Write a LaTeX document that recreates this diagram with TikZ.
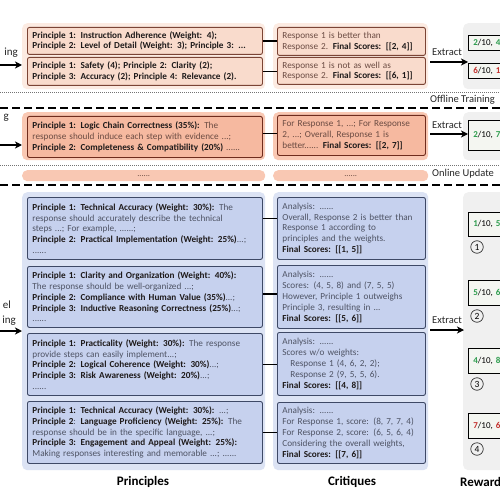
\documentclass[tikz,border=0pt]{standalone}
\usepackage{fontspec}
\setmainfont{Carlito}
\usetikzlibrary{arrows.meta}
\definecolor{peachbg}{HTML}{FCEBE2}
\definecolor{peachbox}{HTML}{F9DBCC}
\definecolor{peachline}{HTML}{7B4435}
\definecolor{salbg}{HTML}{F9C8B3}
\definecolor{salbox}{HTML}{F6B9A0}
\definecolor{salline}{HTML}{6F2C1D}
\definecolor{bluebg}{HTML}{DCE3F4}
\definecolor{bluebox}{HTML}{C6D1EE}
\definecolor{blueline}{HTML}{3E4966}
\definecolor{greybg}{HTML}{F0F0F0}
\definecolor{rewfill}{HTML}{F4F6F1}
\definecolor{rgreen}{HTML}{2E9D4E}
\definecolor{rred}{HTML}{C3302C}
\definecolor{boldtext}{HTML}{1E1A1A}
\definecolor{txtA}{HTML}{6B4B42}
\definecolor{txtB}{HTML}{4E5364}
\newcommand{\bt}[1]{\textbf{\textcolor{boldtext}{#1}}}
\newcommand{\boxfont}{\fontsize{9.2}{10.8}\selectfont}
\tikzset{
  colbg/.style={anchor=north west, draw=none, rounded corners=5pt, inner sep=0pt},
  bgA/.style={colbg, fill=peachbg},
  bgS/.style={colbg, fill=salbg},
  bgB/.style={colbg, fill=bluebg},
  bgG/.style={colbg, fill=greybg},
  boxbase/.style={anchor=north west, rounded corners=2pt, line width=0.9pt, inner xsep=5pt, inner ysep=2pt, align=left, font=\boxfont},
  pwide/.style={text width=225pt},
  cwide/.style={text width=138pt},
  boxA/.style={boxbase, draw=peachline, fill=peachbox, text=txtA},
  boxS/.style={boxbase, draw=salline, fill=salbox, text=txtA},
  boxB/.style={boxbase, draw=blueline, fill=bluebox, text=txtB},
  rbox/.style={anchor=west, draw=black, fill=rewfill, line width=0.8pt, minimum width=80pt, text width=70pt, inner xsep=4pt, align=left, font=\fontsize{9}{10}\selectfont},
  conn/.style={draw=black, line width=1.5pt},
  arr/.style={draw=black, line width=1.6pt, -{Stealth[length=7pt,width=7pt,inset=2pt]}},
  lab/.style={font=\fontsize{10.5}{12}\selectfont, text=black!85, inner sep=0pt},
  side/.style={font=\fontsize{11}{12}\selectfont, text=black!85, anchor=east, inner sep=0pt},
  dashl/.style={draw=black, line width=1.3pt, dash pattern=on 8pt off 4pt},
  dotl/.style={draw=black!55, line width=0.7pt, dash pattern=on 0.8pt off 1.2pt},
  strip/.style={colbg, fill=salbg, font=\fontsize{8.5}{10}\selectfont, text=txtA},
  circ/.style={circle, draw=black!80, line width=0.7pt, minimum size=12.5pt, inner sep=0pt, font=\fontsize{9.5}{10}\selectfont},
  title/.style={font=\fontsize{13}{15}\selectfont\bfseries, inner sep=0pt}
}
\begin{document}
\begin{tikzpicture}[x=1pt,y=-1pt]
\useasboundingbox (0,0) rectangle (500,500);
\clip (0,0) rectangle (500,500);
\fill[white] (0,0) rectangle (500,500);

% ---------------- Section 1 (offline, static) ----------------
\node[bgA, minimum width=243pt, minimum height=66pt] (sp1) at (22,23) {};
\node[bgA, minimum width=155pt, minimum height=66pt] (sc1) at (273,23) {};
\node[bgG, minimum width=60pt, minimum height=66pt] (sr1) at (463,23) {};

\node[boxA, pwide, minimum height=27pt, font=\boxfont\bfseries, text=boldtext] (pa1) at (27,27)
  {\mbox{Principle 1: Instruction Adherence (Weight: 4);}\\\mbox{Principle 2: Level of Detail (Weight: 3); Principle 3: ...}};
\node[boxA, pwide, minimum height=28pt, font=\boxfont\bfseries, text=boldtext] (pa2) at (27,57)
  {\mbox{Principle 1: Safety (4); Principle 2: Clarity (2);}\\\mbox{Principle 3: Accuracy (2); Principle 4: Relevance (2).}};
\node[boxA, cwide, minimum height=28pt] (ca1) at (277,27)
  {\mbox{Response 1 is better than}\\\mbox{Response 2. \bt{Final Scores: [[2, 4]]}}};
\node[boxA, cwide, minimum height=27pt] (ca2) at (277,57)
  {\mbox{Response 1 is not as well as}\\\mbox{Response 2. \bt{Final Scores: [[6, 1]]}}};
\draw[conn] (pa1.east) -- (pa1.east -| ca1.west);
\draw[conn] (pa2.east) -- (pa2.east -| ca2.west);

\node[rbox, minimum height=15pt] (r1) at (468,42.5) {\textcolor{rgreen}{\textbf{2}}/10, \textcolor{rgreen}{\textbf{4}}/10};
\node[rbox, minimum height=15pt] (r2) at (468,70.5) {\textcolor{rred}{\textbf{6}}/10, \textcolor{rred}{\textbf{1}}/10};
\coordinate (x1a) at (430,62);
\draw[arr] (x1a) -- (x1a -| r1.west);
\node[lab] (xt1) at (447,52) {Extract};

\node[side] (l1) at (18,53) {ing};
\coordinate (a1) at (-2,65);
\draw[arr] (a1) -- (a1 -| sp1.west);

\coordinate (d1a) at (0,92); \coordinate (d1b) at (500,92);
\draw[dotl] (d1a) -- (d1b);
\node[lab, anchor=west] (off) at (430,100) {Offline Training};
\coordinate (h1a) at (0,108); \coordinate (h1b) at (500,108);
\draw[dashl] (h1a) -- (h1b);

% ---------------- Section 2 (offline, learned) ----------------
\node[bgS, minimum width=243pt, minimum height=48pt] (sp2) at (22,112) {};
\node[bgS, minimum width=155pt, minimum height=48pt] (sc2) at (273,112) {};
\node[bgG, minimum width=60pt, minimum height=48pt] (sr2) at (463,112) {};

\node[boxS, pwide, minimum height=41pt] (pb1) at (27,116)
  {\mbox{\bt{Principle 1: Logic Chain Correctness (35\%):} The}\\
   \mbox{response should induce each step with evidence ...;}\\
   \mbox{\bt{Principle 2: Completeness \& Compatibility (20\%)} ......}};
\node[boxS, cwide, minimum height=40pt] (cb1) at (277,115)
  {\mbox{For Response 1, ...; For Response}\\
   \mbox{2, ...; Overall, Response 1 is}\\
   \mbox{better...... \bt{Final Scores: [[2, 7]]}}};
\draw[conn] ([yshift=3.5pt]pb1.east) -- ([yshift=3.5pt]pb1.east -| cb1.west);

\node[rbox, minimum height=30pt] (r3) at (468,135) {\textcolor{rgreen}{\textbf{2}}/10, \textcolor{rgreen}{\textbf{7}}/10};
\coordinate (x2a) at (430,134);
\draw[arr] (x2a) -- (x2a -| r3.west);
\node[lab] (xt2) at (447,125) {Extract};

\node[side] (l2) at (9,118) {g};
\coordinate (a2) at (-2,145);
\draw[arr] (a2) -- (a2 -| sp2.west);

\coordinate (d2a) at (0,165); \coordinate (d2b) at (500,165);
\draw[dotl] (d2a) -- (d2b);
\node[strip, minimum width=243pt, minimum height=11pt] (st1) at (22,170) {......};
\node[strip, minimum width=155pt, minimum height=11pt] (st2) at (273,170) {......};
\node[lab, anchor=west] (onl) at (432,174) {Online Update};
\coordinate (h2a) at (0,185); \coordinate (h2b) at (500,185);
\draw[dashl] (h2a) -- (h2b);

% ---------------- Section 3 (online) ----------------
\node[bgB, minimum width=243pt, minimum height=278pt] (sp3) at (22,192) {};
\node[bgB, minimum width=155pt, minimum height=278pt] (sc3) at (273,192) {};
\node[bgG, minimum width=60pt, minimum height=278pt] (sr3) at (463,192) {};

\node[boxB, pwide, minimum height=62pt] (p1) at (27,197)
  {\mbox{\bt{Principle 1: Technical Accuracy (Weight: 30\%):} The}\\
   \mbox{response should accurately describe the technical}\\
   \mbox{steps ...; For example, ......;}\\
   \mbox{\bt{Principle 2: Practical Implementation (Weight: 25\%)}...;}\\
   \mbox{......}};
\node[boxB, pwide, minimum height=61pt] (p2) at (27,266)
  {\mbox{\bt{Principle 1: Clarity and Organization (Weight: 40\%):}}\\
   \mbox{The response should be well-organized ...;}\\
   \mbox{\bt{Principle 2: Compliance with Human Value (35\%)}...;}\\
   \mbox{\bt{Principle 3: Inductive Reasoning Correctness (25\%)}...;}\\
   \mbox{......}};
\node[boxB, pwide, minimum height=62pt] (p3) at (27,333)
  {\mbox{\bt{Principle 1: Practicality (Weight: 30\%):} The response}\\
   \mbox{provide steps can easily implement...;}\\
   \mbox{\bt{Principle 2: Logical Coherence (Weight: 30\%)}...;}\\
   \mbox{\bt{Principle 3: Risk Awareness (Weight: 20\%)}...;}\\
   \mbox{......}};
\node[boxB, pwide, minimum height=62pt] (p4) at (27,401)
  {\mbox{\bt{Principle 1: Technical Accuracy (Weight: 30\%):} ...;}\\
   \mbox{\bt{Principle 2}: \bt{Language Proficiency (Weight: 25\%):} The}\\
   \mbox{response should be in the specific language, ...;}\\
   \mbox{\bt{Principle 3: Engagement and Appeal (Weight: 25\%):}}\\
   \mbox{Making responses interesting and memorable ...; ......}};

\node[boxB, cwide, minimum height=62pt] (c1) at (277,197)
  {\mbox{Analysis: ......}\\
   \mbox{Overall, Response 2 is better than}\\
   \mbox{Response 1 according to}\\
   \mbox{principles and the weights.}\\
   \mbox{\bt{Final Scores: [[1, 5]]}}};
\node[boxB, cwide, minimum height=63pt] (c2) at (277,265)
  {\mbox{Analysis: ......}\\
   \mbox{Scores: (4, 5, 8) and (7, 5, 5)}\\
   \mbox{However, Principle 1 outweighs}\\
   \mbox{Principle 3, resulting in ...}\\
   \mbox{\bt{Final Scores: [[5, 6]]}}};
\node[boxB, cwide, minimum height=63pt] (c3) at (277,332)
  {\mbox{Analysis: ......}\\
   \mbox{Scores w/o weights:}\\
   \mbox{\hspace*{8pt}Response 1 (4, 6, 2, 2);}\\
   \mbox{\hspace*{8pt}Response 2 (9, 5, 5, 6).}\\
   \mbox{\bt{Final Scores: [[4, 8]]}}};
\node[boxB, cwide, minimum height=61pt] (c4) at (277,402)
  {\mbox{Analysis: ......}\\
   \mbox{For Response 1, score: (8, 7, 7, 4)}\\
   \mbox{For Response 2, score: (6, 5, 6, 4)}\\
   \mbox{Considering the overall weights,}\\
   \mbox{\bt{Final Scores: [[7, 6]]}}};

\draw[conn] ([yshift=10pt]p1.east) -- ([yshift=10pt]p1.east -| c1.west);
\draw[conn] ([yshift=3pt]p2.east) -- ([yshift=3pt]p2.east -| c2.west);
\draw[conn] (p3.east) -- (p3.east -| c3.west);
\draw[conn] (p4.east) -- (p4.east -| c4.west);

\node[rbox, minimum height=24pt] (r4) at (468,224) {\textcolor{rgreen}{\textbf{1}}/10, \textcolor{rgreen}{\textbf{5}}/10};
\node[rbox, minimum height=25pt] (r5) at (468,292.5) {\textcolor{rgreen}{\textbf{5}}/10, \textcolor{rgreen}{\textbf{6}}/10};
\node[rbox, minimum height=25pt] (r6) at (468,360.5) {\textcolor{rgreen}{\textbf{4}}/10, \textcolor{rgreen}{\textbf{8}}/10};
\node[rbox, minimum height=25pt] (r7) at (468,425.5) {\textcolor{rred}{\textbf{7}}/10, \textcolor{rred}{\textbf{6}}/10};
\node[circ] (n1) at (477,247) {1};
\node[circ] (n2) at (477,316) {2};
\node[circ] (n3) at (477,384) {3};
\node[circ] (n4) at (477,449) {4};

\coordinate (x3a) at (430,330);
\coordinate (x3b) at (464,330);
\draw[arr] (x3a) -- (x3b);
\node[lab] (xt3) at (447,320) {Extract};

\node[side] (l3) at (11,305) {el};
\node[side] (l4) at (16,321) {ing};
\coordinate (a3) at (-2,331);
\draw[arr] (a3) -- (a3 -| sp3.west);

\node[title] (tp) at (143,482) {Principles};
\node[title] (tc) at (352,482) {Critiques};
\node[title, anchor=west] (tr) at (460,482) {Rewards};
\end{tikzpicture}
\end{document}
